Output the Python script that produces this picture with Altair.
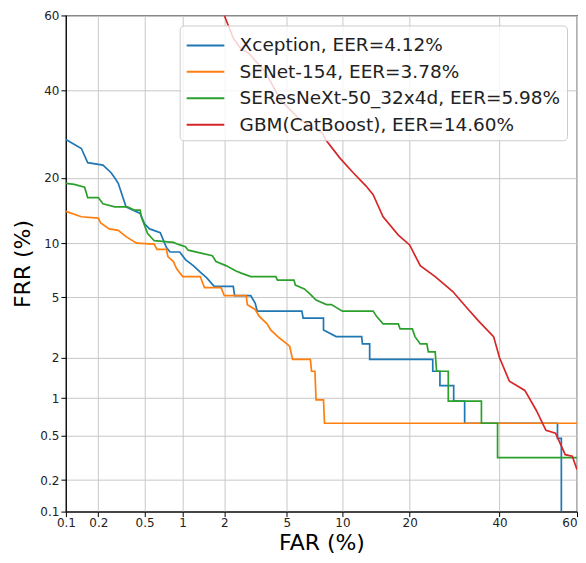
import altair as alt
import pandas as pd
from statistics import NormalDist

# ---- data (percent values) ----
models = ["Xception, EER=4.12%", "SENet-154, EER=3.78%",
          "SEResNeXt-50_32x4d, EER=5.98%", "GBM(CatBoost), EER=14.60%"]
colors = ["#1f77b4", "#ff7f0e", "#2ca02c", "#d62728"]

xcep_far = [0.1, 0.14, 0.16, 0.22, 0.26, 0.28, 0.3, 0.35, 0.46, 0.5, 0.55, 0.67, 0.75, 0.8, 0.95,
            1.05, 1.2, 1.35, 1.5, 1.7, 2.3, 2.35, 3.0, 3.2, 3.3, 6.1, 6.2, 8.0, 8.0, 9.3, 12.4,
            12.5, 13.5, 13.5, 24.5, 24.5, 26.0, 26.0, 29.0, 29.0, 31.5, 31.5, 55.0, 55.0, 56.0, 56.0]
xcep_frr = [28, 26, 23, 22.5, 21, 20, 19, 15, 14, 12.5, 11.8, 11.3, 9.5, 9, 9,
            8.2, 7.6, 7, 6.5, 5.8, 5.8, 5.1, 5.1, 4.6, 4.1, 4.1, 3.7, 3.7, 3.1, 2.8, 2.8,
            2.5, 2.5, 1.95, 1.95, 1.6, 1.6, 1.25, 1.25, 0.95, 0.95, 0.63, 0.63, 0.47, 0.47, 0.1]

senet_far = [0.1, 0.14, 0.2, 0.21, 0.25, 0.3, 0.35, 0.43, 0.6, 0.63, 0.75, 0.77, 0.85, 0.9, 1.0,
             1.35, 1.45, 1.9, 2.0, 2.8, 2.85, 3.2, 3.4, 3.8, 4.0, 4.5, 4.9, 5.2, 5.4, 6.8, 6.9,
             7.2, 7.3, 8.0, 8.1, 60.0]
senet_frr = [14.3, 13.5, 13.3, 12.6, 11.8, 11.6, 10.8, 10, 9.9, 9.3, 9.3, 8.5, 8, 7.3, 6.6,
             6.6, 5.7, 5.7, 5.1, 5.1, 4.5, 4.2, 3.8, 3.4, 3.1, 2.75, 2.55, 2.4, 1.95, 1.95, 1.6,
             1.6, 0.97, 0.97, 0.63, 0.63]

seres_far = [0.1, 0.12, 0.15, 0.16, 0.2, 0.22, 0.28, 0.36, 0.41, 0.46, 0.47, 0.53, 0.6, 0.85,
             0.95, 1.05, 1.1, 1.65, 1.75, 2.05, 2.4, 2.6, 3.0, 4.3, 4.4, 5.5, 5.6, 6.3, 6.8, 7.3,
             8.3, 8.8, 10.0, 14.0, 14.5, 15.5, 18.0, 18.3, 20.5, 21.0, 22.0, 23.3, 23.6, 25.0,
             25.3, 27.8, 27.8, 35.5, 35.5, 39.5, 39.5, 60.0]
seres_frr = [19, 18.8, 18.3, 16.5, 16.5, 15.5, 15, 15, 14.5, 14.5, 13.5, 11.2, 10.3, 10.1,
             9.8, 9.6, 9.2, 8.6, 8, 7.6, 7.1, 6.9, 6.6, 6.6, 6.3, 6.3, 5.9, 5.6, 5.2, 4.8,
             4.5, 4.5, 4.1, 4.1, 3.8, 3.4, 3.4, 3.15, 3.15, 2.8, 2.5, 2.5, 2.2, 2.2,
             1.6, 1.6, 0.95, 0.95, 0.63, 0.63, 0.32, 0.32]

gbm_far = [2.0, 2.3, 2.6, 2.9, 3.7, 4.6, 6.0, 7.9, 8.2, 9.7, 11.3, 13.0, 14.0, 15.5, 18.0, 20.0,
           22.0, 25.0, 28.8, 32.0, 35.0, 38.5, 40.0, 42.5, 46.5, 49.5, 52.0, 54.5, 57.0, 58.8, 60.0]
gbm_frr = [60, 54, 51, 50, 45, 37.5, 32.5, 29.5, 28, 24, 21, 18.5, 17, 13.5, 11, 9.8,
           7.6, 6.6, 5.4, 4.3, 3.5, 2.8, 2.0, 1.35, 1.15, 0.8, 0.55, 0.52, 0.34, 0.33, 0.25]

tick_labels = [0.1, 0.2, 0.5, 1, 2, 5, 10, 20, 40, 60]

rows = []
for name, fars, frrs in zip(models, [xcep_far, senet_far, seres_far, gbm_far],
                            [xcep_frr, senet_frr, seres_frr, gbm_frr]):
    for i, (a, b) in enumerate(zip(fars, frrs)):
        rows.append({"model": name, "far": a, "frr": b, "idx": i})
df = pd.DataFrame(rows)

nd = NormalDist()
ticks = [nd.inv_cdf(v / 100) for v in tick_labels]
dom = [ticks[0], ticks[-1]]
label_expr = "'' + round(cumulativeNormal(datum.value) * 1000) / 10"

axis_common = dict(
    values=ticks, labelExpr=label_expr, labelFlush=False, grid=True,
    gridColor="#c8c8c8", gridWidth=1,
    domainColor="black", tickColor="black", tickSize=5, labelFontSize=12,
    labelColor="#222", labelFont="DejaVu Sans", titleFont="DejaVu Sans",
    titleFontSize=22, titleFontWeight="normal", titleColor="black",
)

last_tick = ticks[-1] - 0.01

chart = alt.Chart(df).transform_calculate(
    px="quantileNormal(datum.far / 100)",
    py="quantileNormal(datum.frr / 100)",
).mark_line(clip=True, strokeWidth=1.7).encode(
    x=alt.X("px:Q", scale=alt.Scale(domain=dom, nice=False, zero=False),
            axis=alt.Axis(title="FAR (%)", titlePadding=4, labelPadding=1,
                          labelAlign={"condition": {"test": f"datum.value > {last_tick}",
                                                    "value": "right"},
                                      "value": "center"},
                          **axis_common)),
    y=alt.Y("py:Q", scale=alt.Scale(domain=dom, nice=False, zero=False),
            axis=alt.Axis(title="FRR (%)", titlePadding=5, labelPadding=2, **axis_common)),
    color=alt.Color("model:N", scale=alt.Scale(domain=models, range=colors),
                    legend=alt.Legend(title=None, orient="none", legendX=114, legendY=10,
                                      labelFontSize=18.5, labelFont="DejaVu Sans",
                                      labelColor="#222",
                                      symbolType="M-1,0H1.9", symbolSize=676,
                                      symbolStrokeWidth=2, labelOffset=26,
                                      rowPadding=2.5, padding=6,
                                      fillColor="rgba(255,255,255,0.8)", strokeColor="#cccccc",
                                      cornerRadius=4, labelLimit=400)),
    order=alt.Order("idx:Q"),
).properties(
    width=512, height=497,
    padding={"left": 3, "top": 1, "right": 0, "bottom": 0},
).configure_view(stroke="black", strokeWidth=1.2)

chart.save("out.html", embed_options={"renderer": "svg", "actions": False})
